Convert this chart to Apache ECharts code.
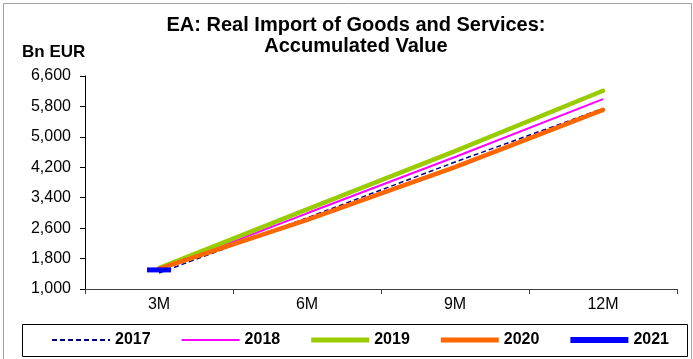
<!DOCTYPE html>
<html>
<head>
<meta charset="utf-8">
<script src="https://cdn.jsdelivr.net/npm/echarts@6/dist/echarts.min.js"></script>
<style>html,body{margin:0;padding:0;background:#fff}#c{width:693px;height:359px}</style>
</head>
<body>
<div id="c"></div>
<script>
var categories = ['3M', '6M', '9M', '12M'];
var y2017 = [1420, 2870, 4337, 5745];
var y2018 = [1500, 2990, 4469, 5993];
var y2019 = [1550, 3095, 4627, 6213];
var y2020 = [1530, 2815, 4205, 5711];
var y2021 = [1502, null, null, null];
var yTicks = [1000, 1800, 2600, 3400, 4200, 5000, 5800, 6600];

var FONT = 'Liberation Sans, Arial, sans-serif';
var chart = echarts.init(document.getElementById('c'), null, {renderer: 'canvas'});
function bar(h) { return 'path://M0,0H58V' + h + 'H0Z'; }
var dashIcon = 'path://M0,0h5v2h-5z M8,0h5v2h-5z M16,0h5v2h-5z M24,0h5v2h-5z M32,0h5v2h-5z M40,0h5v2h-5z M48,0h5v2h-5z M56,0h2v2h-2z';
var option = {
  animation: false,
  backgroundColor: '#fff',
  textStyle: {fontFamily: FONT},
  grid: {left: 85, right: 16, top: 76, bottom: 70, containLabel: false},
  graphic: [
    {type: 'rect', shape: {x: 3.5, y: 3.5, width: 688, height: 370}, style: {fill: 'none', stroke: '#a0a0a0', lineWidth: 1}, silent: true},
    {type: 'rect', shape: {x: 22.5, y: 324.5, width: 665, height: 32}, style: {fill: 'none', stroke: '#000', lineWidth: 1}, silent: true},
    {type: 'text', style: {x: 356, y: 25, text: 'EA: Real Import of Goods and Services:', textAlign: 'center', textVerticalAlign: 'middle', font: 'bold 20px ' + FONT, fill: '#000'}},
    {type: 'text', style: {x: 356, y: 46, text: 'Accumulated Value', textAlign: 'center', textVerticalAlign: 'middle', font: 'bold 20px ' + FONT, fill: '#000'}},
    {type: 'text', style: {x: 22, y: 52, text: 'Bn EUR', textAlign: 'left', textVerticalAlign: 'middle', font: 'bold 17px ' + FONT, fill: '#000'}}
  ],
  legend: {
    left: 52, top: 332, width: 650,
    padding: 0,
    itemWidth: 58, itemHeight: 14, itemGap: 31,
    textStyle: {fontFamily: FONT, fontWeight: 'bold', fontSize: 16, color: '#000'},
    data: [
      {name: '2017', icon: dashIcon, itemStyle: {color: '#000080', borderWidth: 0}},
      {name: '2018', icon: bar(2), itemStyle: {color: '#ff00ff', borderWidth: 0}},
      {name: '2019', icon: bar(5), itemStyle: {color: '#99cc00', borderWidth: 0}},
      {name: '2020', icon: bar(5), itemStyle: {color: '#ff6600', borderWidth: 0}},
      {name: '2021', icon: bar(6), itemStyle: {color: '#0000ff', borderWidth: 0}}
    ]
  },
  xAxis: {
    type: 'category', data: categories, boundaryGap: true,
    axisLine: {lineStyle: {color: '#404040', width: 1}},
    axisTick: {show: true, alignWithLabel: false, length: 5, lineStyle: {color: '#404040'}},
    axisLabel: {color: '#000', fontSize: 16, fontFamily: FONT, margin: 8},
    splitLine: {show: false}
  },
  yAxis: {
    type: 'value', min: yTicks[0], max: yTicks[yTicks.length - 1], interval: yTicks[1] - yTicks[0],
    axisLine: {show: true, lineStyle: {color: '#000', width: 1}},
    axisTick: {show: true, length: 5, lineStyle: {color: '#000'}},
    axisLabel: {color: '#000', fontSize: 16, fontFamily: FONT, margin: 14,
      formatter: function (v) { return v.toLocaleString('en-US'); }},
    splitLine: {show: false}
  },
  series: [
    {name: '2017', type: 'line', data: y2017, symbol: 'none', lineStyle: {color: '#000080', width: 1.5, type: [5, 3]}, itemStyle: {color: '#000080'}},
    {name: '2018', type: 'line', data: y2018, symbol: 'none', lineStyle: {color: '#ff00ff', width: 2}, itemStyle: {color: '#ff00ff'}},
    {name: '2019', type: 'line', data: y2019, symbol: 'none', lineStyle: {color: '#99cc00', width: 4.5, cap: 'round'}, itemStyle: {color: '#99cc00'}},
    {name: '2020', type: 'line', data: y2020, symbol: 'none', lineStyle: {color: '#ff6600', width: 4.5, cap: 'round'}, itemStyle: {color: '#ff6600'}},
    {name: '2021', type: 'line', data: y2021, symbol: 'rect', symbolSize: [24, 5], showSymbol: true, showAllSymbol: true, lineStyle: {color: '#0000ff', width: 6}, itemStyle: {color: '#0000ff'}}
  ]
};
chart.setOption(option);
</script>
</body>
</html>
